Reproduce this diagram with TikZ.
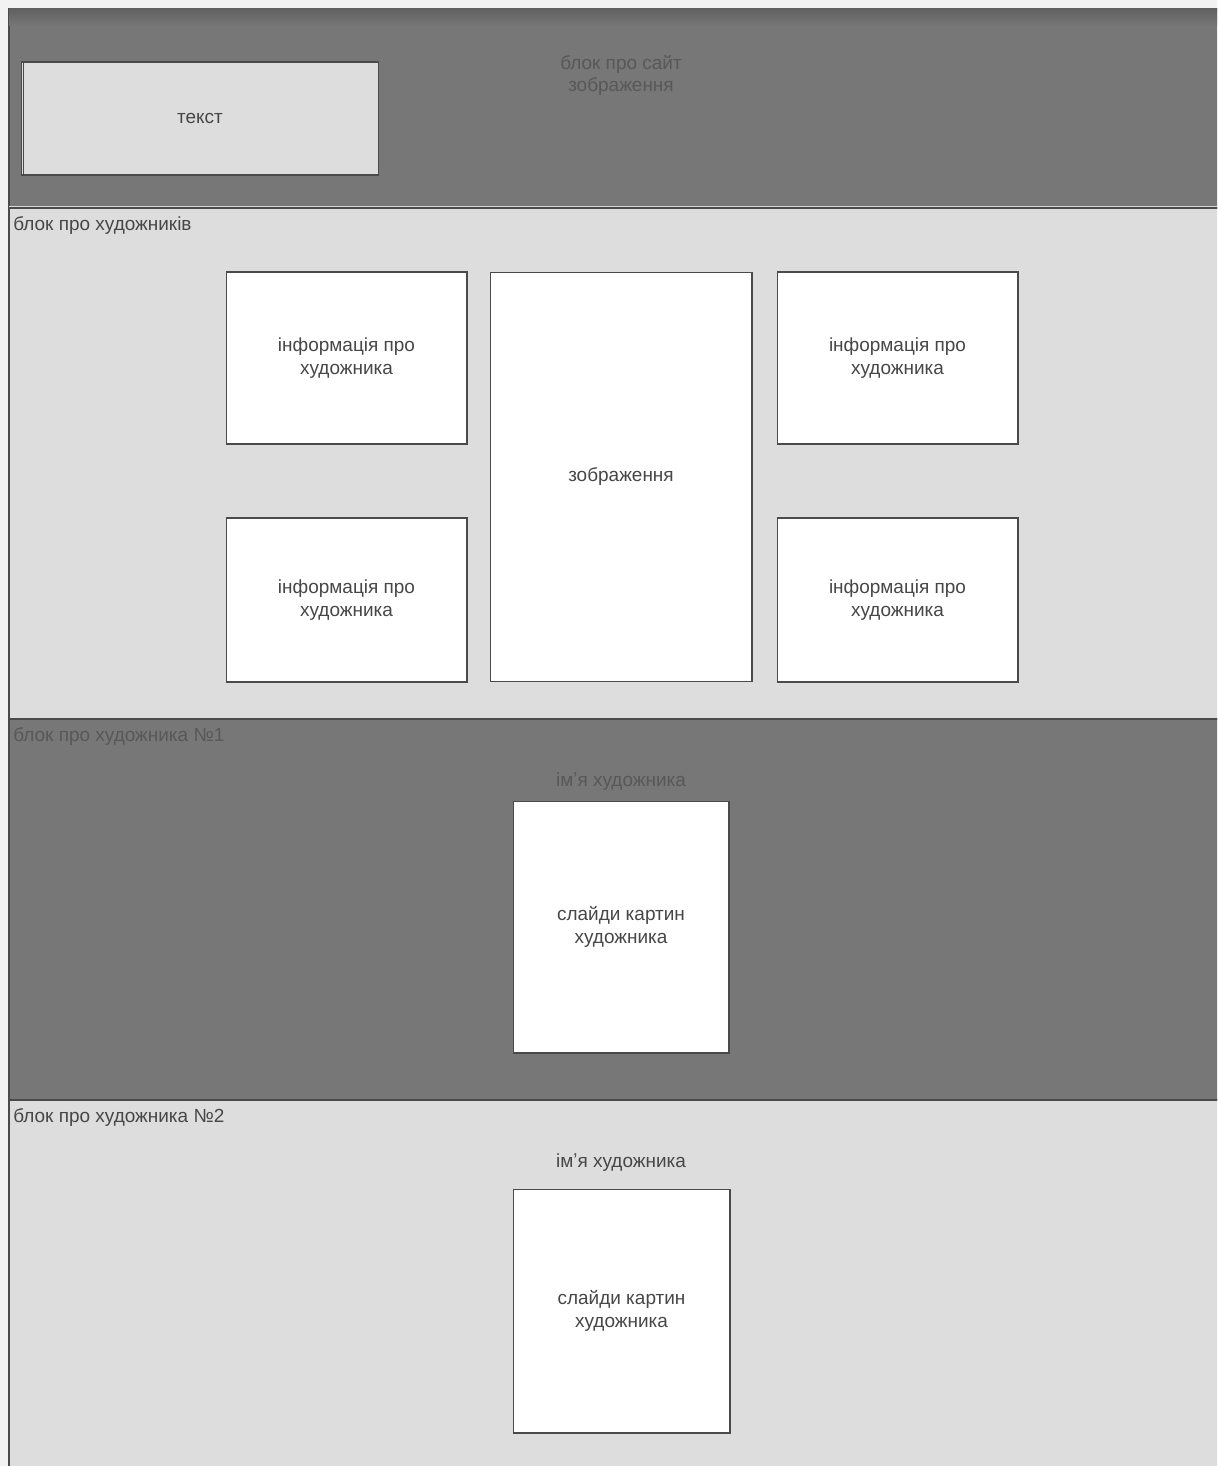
\documentclass[tikz,border=0pt]{standalone}
\usepackage{fontspec}
\setmainfont{Liberation Sans}
\usepackage{xcolor}
\definecolor{pagebg}{HTML}{F2F2F2}
\definecolor{bgdark}{HTML}{777777}
\definecolor{bglight}{HTML}{DDDDDD}
\definecolor{edgegray}{HTML}{4A4A4A}
\definecolor{txtgray}{HTML}{474747}
\definecolor{txtdim}{HTML}{585858}
\usepackage{tikz}

\begin{document}
\begin{tikzpicture}[x=0.02cm,y=-0.02cm,font=\fontsize{10.8}{13}\selectfont,
  sect/.style={draw=edgegray,line width=0.7pt},
  box/.style={draw=edgegray,fill=white,line width=0.6pt,align=center,text=txtgray,inner sep=0pt},
  blocklabel/.style={anchor=west,inner sep=0pt},
  title/.style={align=center,inner sep=0pt}]
\useasboundingbox (0,0) rectangle (1217,1466);
\clip (0,0) rectangle (1217,1466);
\fill[pagebg] (0,0) rectangle (1217,1466);
% ---- blok pro sajt ----
\draw[sect,fill=bgdark] (9,9) rectangle (1230,208);
\shade[top color=black!62,bottom color=bgdark] (9.4,9) rectangle (1230,26);
\node[box,fill=bglight,minimum width=7.16cm,minimum height=2.26cm] (tekst) at (200,118.5) {текст};
\draw[edgegray,line width=0.5pt] (23,62) -- (23,175);
\node[title,text=txtdim] (sitetitle) at (621,75.5) {блок про сайт\\зображення};
% ---- blok pro hudozhnykiv ----
\draw[sect,fill=bglight] (9,208) rectangle (1230,719);
\draw[white!85!black,line width=0.6pt] (9,206.5) -- (1230,206.5);
\node[blocklabel,text=txtgray] (artistslabel) at (13,226) {блок про художників};
\node[box,minimum width=4.82cm,minimum height=3.44cm] (info1) at (346.5,358) {інформація про\\художника};
\node[box,minimum width=4.82cm,minimum height=3.44cm] (info2) at (897.5,358) {інформація про\\художника};
\node[box,minimum width=4.82cm,minimum height=3.28cm] (info3) at (346.5,600) {інформація про\\художника};
\node[box,minimum width=4.82cm,minimum height=3.28cm] (info4) at (897.5,600) {інформація про\\художника};
\node[box,minimum width=5.24cm,minimum height=8.2cm] (picture) at (621,477) {зображення};
% ---- blok pro hudozhnyka 1 ----
\draw[sect,fill=bgdark] (9,719) rectangle (1230,1100);
\node[blocklabel,text=txtdim] (artist1label) at (13,737) {блок про художника №1};
\node[title,text=txtdim] (name1) at (621,782) {імʼя художника};
\node[box,minimum width=4.32cm,minimum height=5.04cm] (slides1) at (621,927) {слайди картин\\художника};
% ---- blok pro hudozhnyka 2 ----
\draw[sect,fill=bglight] (9,1100) rectangle (1230,1480);
\node[blocklabel,text=txtgray] (artist2label) at (13,1117) {блок про художника №2};
\node[title,text=txtgray] (name2) at (621,1163) {імʼя художника};
\node[box,minimum width=4.34cm,minimum height=4.88cm] (slides2) at (621.5,1311) {слайди картин\\художника};
\end{tikzpicture}
\end{document}
